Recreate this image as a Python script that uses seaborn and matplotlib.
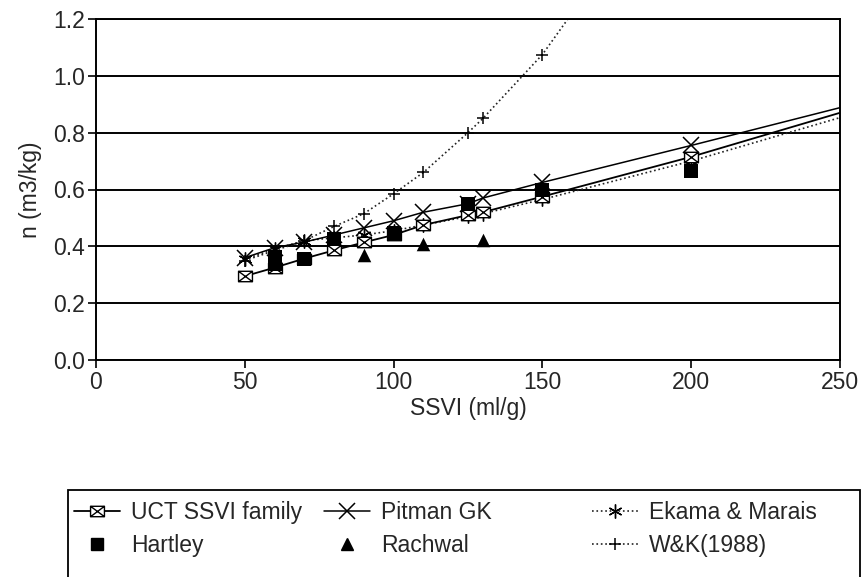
import matplotlib
matplotlib.use("Agg")
import matplotlib.pyplot as plt
import seaborn as sb
from matplotlib.path import Path
from matplotlib.lines import Line2D
from matplotlib.patches import Rectangle

# values
ssvi = [50, 60, 70, 80, 90, 100, 110, 125, 130, 150, 200, 250]
uct_n = [0.295, 0.325, 0.357, 0.386, 0.414, 0.44, 0.475, 0.51, 0.52, 0.575, 0.715, 0.87]
pitman_n = [0.36, 0.395, 0.415, 0.44, 0.465, 0.49, 0.52, 0.55, 0.57, 0.625, 0.755, 0.888]
ekama_n = [0.355, 0.39, 0.42, 0.43, 0.44, 0.455, 0.475, 0.505, 0.515, 0.565, 0.70, 0.853]

wk_ssvi = [50, 60, 70, 80, 90, 100, 110, 125, 130, 150, 175]
wk_n = [0.35, 0.385, 0.42, 0.47, 0.515, 0.585, 0.66, 0.80, 0.85, 1.075, 1.44]

hartley_ssvi = [60, 60, 70, 80, 100, 125, 150, 200]
hartley_n = [0.338, 0.362, 0.357, 0.425, 0.448, 0.548, 0.60, 0.665]

rachwal_ssvi = [90, 110, 130]
rachwal_n = [0.368, 0.407, 0.424]

xticks = [0, 50, 100, 150, 200, 250]
yticks = [0.0, 0.2, 0.4, 0.6, 0.8, 1.0, 1.2]

sb.set_style('white')
plt.rcParams['font.family'] = ['Liberation Sans', 'DejaVu Sans']
fs = 16.5

# square with a cross inside, like the old spreadsheet marker
box_x = Path([(-1, -0.75), (1, -0.75), (1, 0.75), (-1, 0.75), (-1, -0.75),
              (-1, -0.75), (1, 0.75), (-1, 0.75), (1, -0.75)],
             [Path.MOVETO, Path.LINETO, Path.LINETO, Path.LINETO, Path.CLOSEPOLY,
              Path.MOVETO, Path.LINETO, Path.MOVETO, Path.LINETO])
aster = (6, 2, 0)

fig = plt.figure(figsize=(8.64, 5.77), dpi=100)
ax = fig.add_axes([96/864, 1-360/577, (840-96)/864, (360-19)/577])

uct_style = dict(color='black', lw=1.3, marker=box_x, markersize=10, markerfacecolor='white',
                 markeredgecolor='black', markeredgewidth=1.0)
pit_style = dict(color='black', lw=1.1, marker='x', markersize=11, markeredgewidth=1.1,
                 markeredgecolor='black')
ek_style = dict(color='#222222', lw=1.2, ls=':', marker=aster, markersize=10, markeredgewidth=1.0,
                markeredgecolor='black')
wk_style = dict(color='#222222', lw=1.2, ls=':', marker='+', markersize=8, markeredgewidth=1.1,
                markeredgecolor='black')

sb.lineplot(x=wk_ssvi, y=wk_n, ax=ax, sort=False, **wk_style)
sb.lineplot(x=ssvi, y=ekama_n, ax=ax, sort=False, markevery=slice(0, -1), **ek_style)
sb.lineplot(x=ssvi, y=pitman_n, ax=ax, sort=False, markevery=slice(0, -1), **pit_style)
sb.lineplot(x=ssvi, y=uct_n, ax=ax, sort=False, markevery=slice(0, -1), **uct_style)
sb.scatterplot(x=hartley_ssvi, y=hartley_n, ax=ax, marker='s', s=95, color='black',
               edgecolor='black', linewidth=0, zorder=4)
sb.scatterplot(x=rachwal_ssvi, y=rachwal_n, ax=ax, marker='^', s=95, color='black',
               edgecolor='black', linewidth=0, zorder=4)

ax.set_xlim(0, 250)
ax.set_ylim(0, 1.2)
ax.set_xticks(xticks)
ax.set_yticks(yticks)
ax.set_yticklabels([f'{v:.1f}' for v in yticks])
ax.yaxis.grid(True, color='black', lw=1.4)
ax.xaxis.grid(False)
ax.set_axisbelow(True)
for s in ax.spines.values():
    s.set_color('black')
    s.set_linewidth(1.4)
ax.tick_params(axis='both', direction='out', length=6, width=1.2, color='black',
               labelsize=fs, pad=2, left=True, bottom=True)
ax.set_xlabel('SSVI (ml/g)', fontsize=fs, labelpad=2)
ax.set_ylabel('n (m3/kg)', fontsize=fs, labelpad=8)

# legend: three columns of equal width inside one frame
def h(**kw):
    return Line2D([], [], **kw)

cols = [
    (74, [h(**uct_style), h(ls='none', marker='s', markersize=9, color='black')],
     ['UCT SSVI family', 'Hartley']),
    (324, [h(**pit_style), h(ls='none', marker='^', markersize=9, color='black')],
     ['Pitman GK', 'Rachwal']),
    (592, [h(**ek_style), h(**wk_style)], ['Ekama & Marais', 'W&K(1988)']),
]
for x0, handles, labels in cols:
    fig.legend(handles, labels, loc='center left', bbox_to_anchor=(x0/864, 1-529/577),
               frameon=False, fontsize=fs, borderpad=0, borderaxespad=0,
               handlelength=2.0, handletextpad=0.5, labelspacing=0.45)

fig.patches.append(Rectangle((68/864, -0.05), (860-68)/864, 0.05+1-490/577,
                             transform=fig.transFigure, fill=False, ec='black', lw=1.3))

fig.savefig('out.png', dpi=100)
